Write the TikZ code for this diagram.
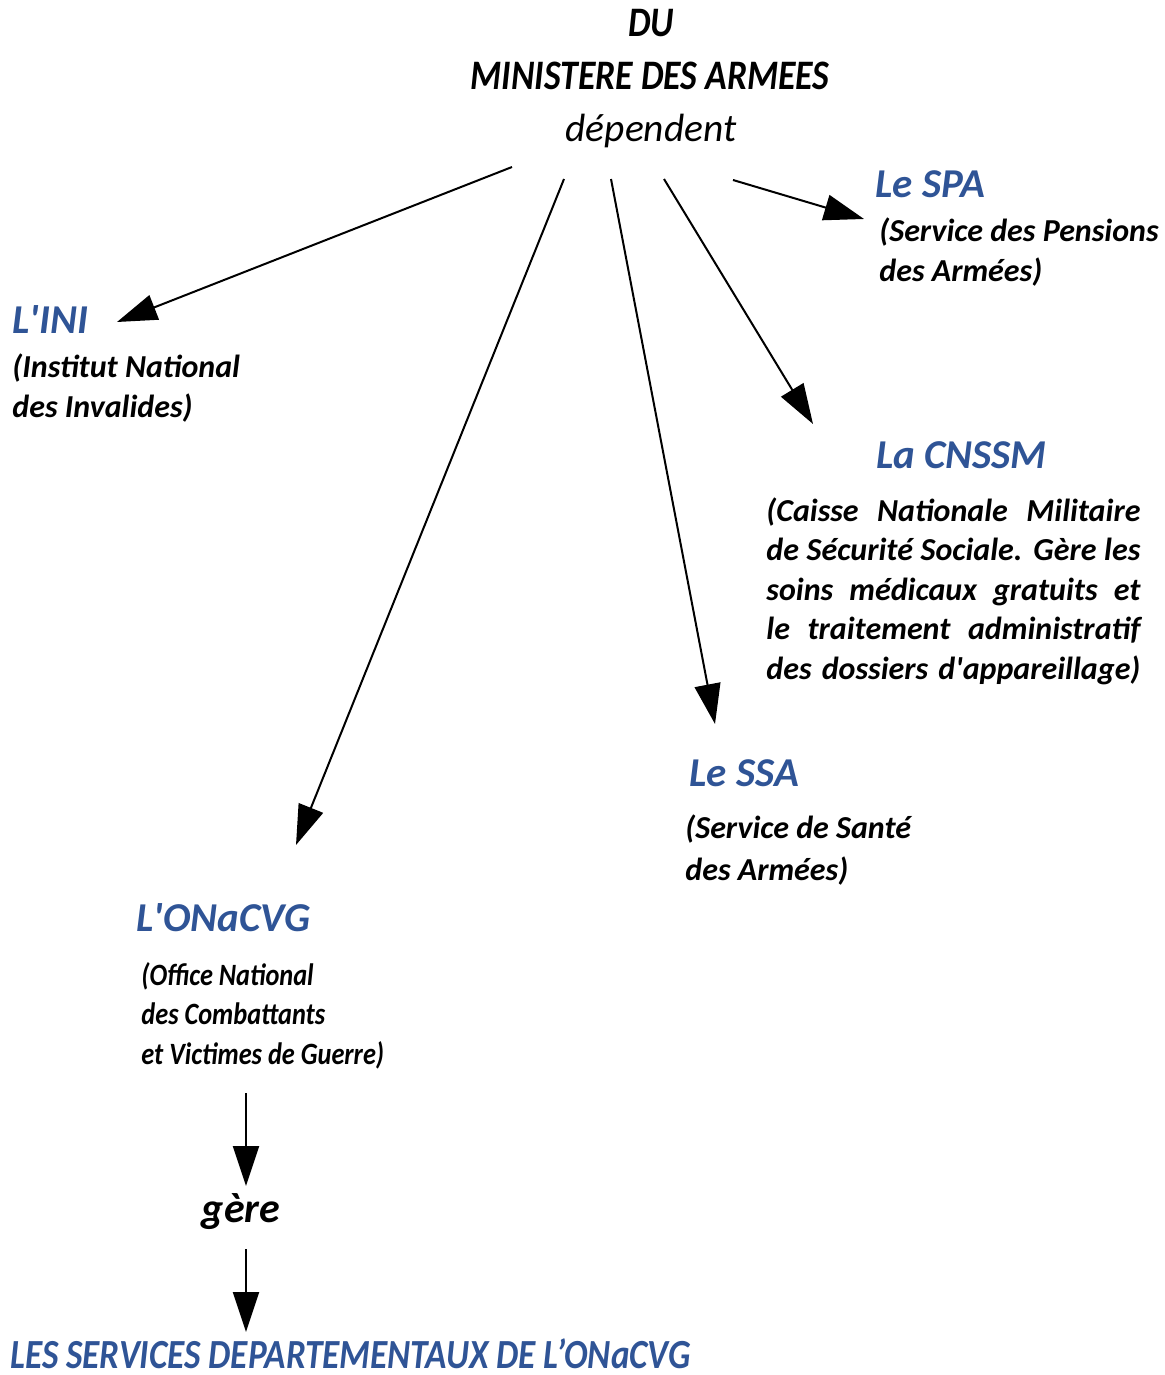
\documentclass[tikz,border=0pt]{standalone}
\usepackage{fontspec}
\setmainfont{Carlito}
\newfontfamily\narrowfont{Carlito}[FakeStretch=0.85]
\usepackage{xcolor}
\usetikzlibrary{arrows.meta}
\definecolor{armblue}{RGB}{47,84,150}

\begin{document}
\begin{tikzpicture}[x=0.5pt, y=-0.5pt,
    arr/.style={-{Triangle[length=20pt, width=13pt]}, line width=1pt},
    title/.style={font=\narrowfont\bfseries\itshape\fontsize{21}{25}\selectfont, inner sep=0pt, anchor=base},
    head/.style={font=\bfseries\itshape\fontsize{20.5}{25}\selectfont, text=armblue, inner sep=0pt, anchor=base west},
    desc/.style={font=\bfseries\itshape\fontsize{16}{19.7}\selectfont, align=left, inner sep=0pt, anchor=base west}]
            \useasboundingbox (0,0) rectangle (1165,1375);

            % the ministry
            \node[title] at (651, 37)   (du)  {DU};
            \node[title] at (650, 90)   (min) {MINISTERE DES ARMEES};
            \node[font=\itshape\fontsize{19.7}{23}\selectfont, inner sep=0pt, anchor=base] at (651, 142) (dep) {dépendent};

            % the services (desc nodes sit on their last line)
            \node[head] at (875, 198)   (spa)   {Le SPA};
            \node[desc] at (879, 281)   (spaD)  {(Service des Pensions\\des Armées)};
            \node[head] at (12, 333)    (ini)   {L\textquotesingle INI};
            \node[desc] at (12, 417)    (iniD)  {(Institut National\\des Invalides)};
            \node[head] at (876, 468)   (cnssm) {La CNSSM};
            \node[desc] at (766, 679)   (cnssmD) {\makebox[187pt][s]{(Caisse Nationale Militaire}\\
                \makebox[187pt][s]{de Sécurité Sociale. Gère les}\\
                \makebox[187pt][s]{soins médicaux gratuits et}\\
                \makebox[187pt][s]{le traitement administratif}\\
                \makebox[187pt][s]{des dossiers d\textquotesingle appareillage)}};
            \node[head] at (689, 786)   (ssa)   {Le SSA};
            \node[desc, font=\bfseries\itshape\fontsize{16}{21}\selectfont] at (685, 880) (ssaD) {(Service de Santé\\des Armées)};
            \node[head] at (136, 931)   (onac)  {L\textquotesingle ONaCVG};
            \node[desc, font=\narrowfont\bfseries\itshape\fontsize{15.5}{19.7}\selectfont] at (141, 1064) (onacD) {(Office National\\des Combattants\\et Victimes de Guerre)};
            \node[font=\bfseries\itshape\fontsize{21}{25}\selectfont, inner sep=0pt, anchor=base] at (241, 1222) (gere) {gère};
            \node[head, font=\narrowfont\bfseries\itshape\fontsize{20.7}{25}\selectfont] at (10, 1368) (sd) {LES SERVICES DEPARTEMENTAUX DE L’ONaCVG};

            % arrow ends
            \coordinate (f1) at (512, 167);  \coordinate (t1) at (117, 322);
            \coordinate (f2) at (564, 179);  \coordinate (t2) at (296, 845);
            \coordinate (f3) at (611, 179);  \coordinate (t3) at (715, 724);
            \coordinate (f4) at (664, 179);  \coordinate (t4) at (813, 424);
            \coordinate (f5) at (733, 180);  \coordinate (t5) at (864, 219);
            \coordinate (g1) at (246, 1093); \coordinate (g2) at (246, 1186);
            \coordinate (g3) at (246, 1249); \coordinate (g4) at (246, 1332);

            \draw [arr] (f1) -- (t1);\draw [arr] (f2) -- (t2);
            \draw [arr] (f3) -- (t3);\draw [arr] (f4) -- (t4);
            \draw [arr] (f5) -- (t5);
            \draw [arr] (g1) -- (g2);\draw [arr] (g3) -- (g4);
        \end{tikzpicture}
\end{document}
